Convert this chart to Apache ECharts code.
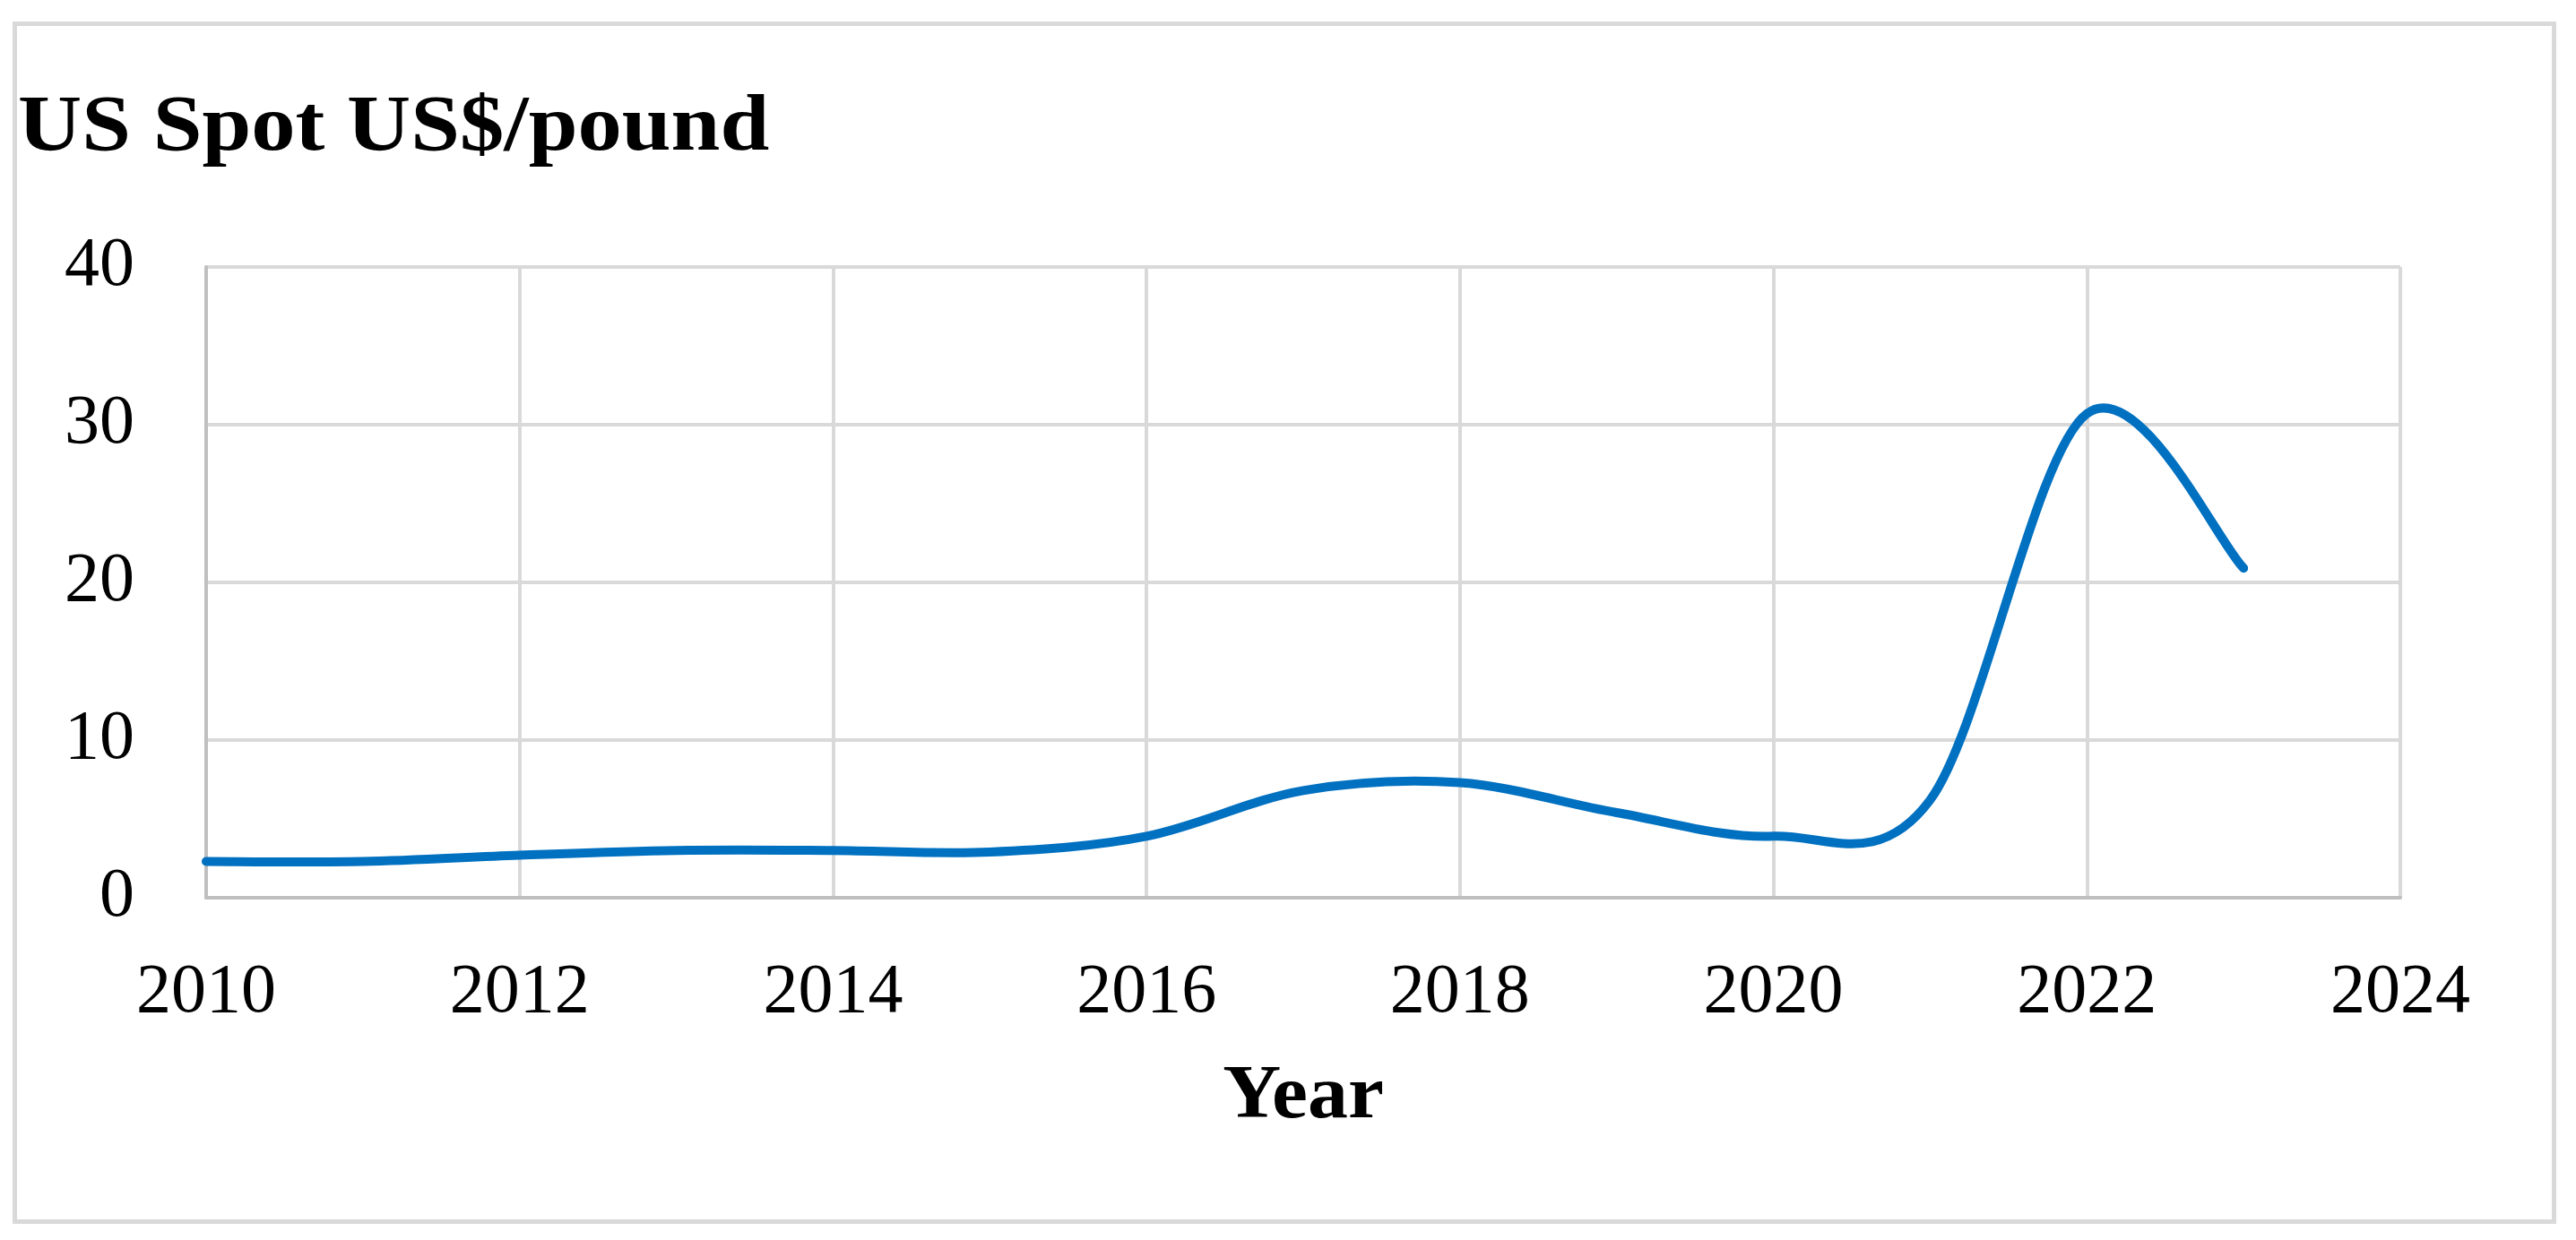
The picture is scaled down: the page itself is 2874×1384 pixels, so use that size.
<!DOCTYPE html>
<html>
<head>
<meta charset="utf-8">
<script src="https://cdn.jsdelivr.net/npm/echarts@6/dist/echarts.min.js"></script>
<style>
  html, body { margin: 0; padding: 0; background: #ffffff; }
  #frame { position: absolute; left: 14px; top: 24px; width: 2838px; height: 1342px; border: 5px solid #d9d9d9; box-sizing: border-box; }
  #chart { position: absolute; left: 0; top: 0; width: 2874px; height: 1384px; }
</style>
</head>
<body>
<div id="frame"></div>
<div id="chart"></div>
<script>
const years = [2010, 2011, 2012, 2013, 2014, 2015, 2016, 2017, 2018, 2019, 2020, 2021, 2022, 2023];
const spotPrice = [2.3, 2.3, 2.7, 3.0, 3.0, 2.9, 3.9, 6.8, 7.3, 5.4, 3.9, 6.2, 30.7, 20.9];
const xTicks = [2010, 2012, 2014, 2016, 2018, 2020, 2022, 2024];
const yTicks = [0, 10, 20, 30, 40];
const chartTitle = 'US Spot US$/pound';
const xAxisName = 'Year';

const chart = echarts.init(document.getElementById('chart'), null, { renderer: 'canvas' });
const font = '"Liberation Serif", "Times New Roman", serif';

// Excel-style smoothed line (Catmull-Rom style Bezier through the data points)
function renderSmoothLine(params, api) {
  if (params.dataIndex !== 0) return null;
  const pts = years.map((y, i) => api.coord([y, spotPrice[i]]));
  const n = pts.length;
  const P = k => pts[Math.max(0, Math.min(n - 1, k))];
  let d = 'M' + pts[0][0] + ' ' + pts[0][1];
  for (let i = 0; i < n - 1; i++) {
    const p0 = P(i - 1), p1 = P(i), p2 = P(i + 1), p3 = P(i + 2);
    const c1x = p1[0] + (p2[0] - p0[0]) / 6, c1y = p1[1] + (p2[1] - p0[1]) / 6;
    const c2x = p2[0] - (p3[0] - p1[0]) / 6, c2y = p2[1] - (p3[1] - p1[1]) / 6;
    d += ' C' + c1x + ' ' + c1y + ' ' + c2x + ' ' + c2y + ' ' + p2[0] + ' ' + p2[1];
  }
  return {
    type: 'path',
    shape: { pathData: d },
    style: { fill: 'none', stroke: '#0070c0', lineWidth: 10, lineCap: 'round', lineJoin: 'round' }
  };
}

chart.setOption({
  backgroundColor: 'transparent',
  animation: false,
  graphic: [
    {
      type: 'text', x: 20, y: 100, scaleX: 1.12,
      style: { text: chartTitle, fontFamily: font, fontWeight: 'bold', fontSize: 88, fill: '#000000', textAlign: 'left', textVerticalAlign: 'top' }
    },
    {
      type: 'text', x: 1454, y: 1183, scaleX: 1.07,
      style: { text: xAxisName, fontFamily: font, fontWeight: 'bold', fontSize: 84, fill: '#000000', textAlign: 'center', textVerticalAlign: 'top' }
    }
  ],
  grid: { left: 230, right: 196, top: 298, bottom: 382, containLabel: false },
  xAxis: {
    type: 'value',
    min: xTicks[0],
    max: xTicks[xTicks.length - 1],
    interval: xTicks[1] - xTicks[0],
    axisLine: { show: true, lineStyle: { color: '#bfbfbf', width: 4 } },
    axisTick: { show: false },
    splitLine: { show: true, lineStyle: { color: '#d9d9d9', width: 4 } },
    axisLabel: {
      fontFamily: font, fontSize: 78, color: '#000000', margin: 68,
      formatter: v => String(v)
    }
  },
  yAxis: {
    type: 'value',
    min: yTicks[0],
    max: yTicks[yTicks.length - 1],
    interval: yTicks[1] - yTicks[0],
    axisLine: { show: true, lineStyle: { color: '#bfbfbf', width: 4 } },
    axisTick: { show: false },
    splitLine: { show: true, lineStyle: { color: '#d9d9d9', width: 4 } },
    axisLabel: { fontFamily: font, fontSize: 78, color: '#000000', margin: 80 }
  },
  series: [{
    type: 'custom',
    data: years.map((y, i) => [y, spotPrice[i]]),
    encode: { x: 0, y: 1 },
    renderItem: renderSmoothLine,
    silent: true
  }]
});
</script>
</body>
</html>
